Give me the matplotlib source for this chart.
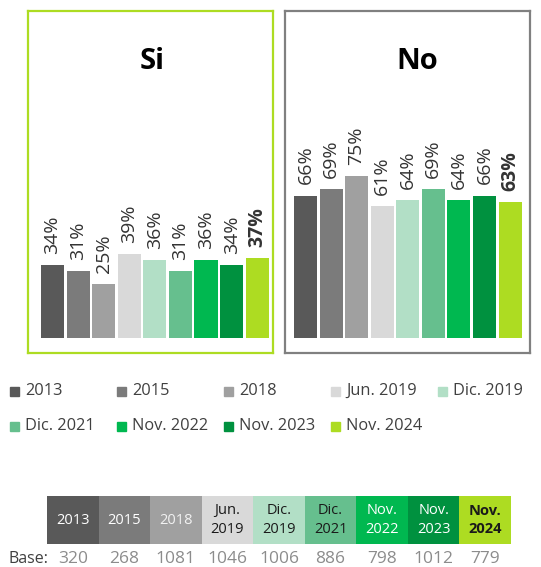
import matplotlib
matplotlib.use("Agg")
import matplotlib.pyplot as plt
from matplotlib.patches import Rectangle

plt.rcParams['font.family'] = ['Open Sans', 'DejaVu Sans']

# datos de la encuesta
periodos = ["2013", "2015", "2018", "Jun. 2019", "Dic. 2019",
            "Dic. 2021", "Nov. 2022", "Nov. 2023", "Nov. 2024"]
etiquetas_tabla = ["2013", "2015", "2018", "Jun.\n2019", "Dic.\n2019",
                   "Dic.\n2021", "Nov.\n2022", "Nov.\n2023", "Nov.\n2024"]
si = [34, 31, 25, 39, 36, 31, 36, 34, 37]
no = [66, 69, 75, 61, 64, 69, 64, 66, 63]
base = [320, 268, 1081, 1046, 1006, 886, 798, 1012, 779]

colores = ["#595959", "#7b7b7b", "#a0a0a0", "#d9d9d9", "#b2dfc6",
           "#66bf8e", "#00b850", "#00913f", "#addc22"]
color_texto_tabla = ["white", "white", "#f2f2f2", "#1a1a1a", "#1a1a1a",
                     "#1a1a1a", "white", "white", "#1a1a1a"]

W, H = 541, 567
fig = plt.figure(figsize=(W / 100, H / 100), dpi=100)


def caja(x0, y0, x1, y1):
    # pixeles (origen arriba-izquierda) -> fraccion de figura
    return [x0 / W, 1 - y1 / H, (x1 - x0) / W, (y1 - y0) / H]


def panel(rect, valores, titulo, borde, xlim, tx):
    ax = fig.add_axes(caja(*rect))
    x = range(len(valores))
    bars = ax.bar(x, valores, width=0.9, color=colores)
    ax.set_xlim(*xlim)
    ax.set_ylim(-6.9, 151.4)
    ax.set_xticks([])
    ax.set_yticks([])
    for s in ax.spines.values():
        s.set_color(borde)
        s.set_linewidth(1.6)
    for i, (b, v) in enumerate(zip(bars, valores)):
        ax.annotate(f"{v}%", (b.get_x() + b.get_width() / 2, v),
                    xytext=(0, 8), textcoords="offset points",
                    rotation=90, ha="center", va="bottom",
                    fontsize=14, color="#333333",
                    fontweight="bold" if i == len(valores) - 1 else "normal")
    ax.text(tx, 0.851, titulo, transform=ax.transAxes, ha="center",
            va="center", fontsize=21, fontweight="bold", color="black")
    return ax


panel((28, 11, 273, 353), si, "Si", "#addc22", (-0.96, 8.62), 0.506)
panel((285, 11, 530, 353), no, "No", "#808080", (-0.80, 8.78), 0.539)

# leyenda en dos filas
for i, (lab, col) in enumerate(zip(periodos, colores)):
    fila, c = divmod(i, 5)
    x0 = 10 + 107 * c
    yc = 391 + 35 * fila
    fig.patches.append(Rectangle((x0 / W, 1 - (yc + 4.5) / H), 8.5 / W, 9 / H,
                                 transform=fig.transFigure, color=col))
    fig.text((x0 + 15) / W, 1 - yc / H, lab, ha="left", va="center",
             fontsize=11.8, color="#404040")

# tabla de bases
axt = fig.add_axes(caja(47, 496, 511, 544))
axt.bar(range(9), [1] * 9, width=1, bottom=0, color=colores)
axt.set_xlim(-0.5, 8.5)
axt.set_ylim(0, 1)
axt.axis("off")
for i, (lab, tc) in enumerate(zip(etiquetas_tabla, color_texto_tabla)):
    axt.text(i, 0.5, lab, ha="center", va="center", fontsize=10.5,
             color=tc, linespacing=1.35,
             fontweight="bold" if i == 8 else "normal")
for i, n in enumerate(base):
    axt.text(i, -0.31, str(n), ha="center", va="center", fontsize=12.5,
             color="#8c8c8c", clip_on=False)
fig.text(8 / W, 1 - 559 / H, "Base:", ha="left", va="center",
         fontsize=11.5, color="#404040")

fig.savefig("out.png", dpi=100)
